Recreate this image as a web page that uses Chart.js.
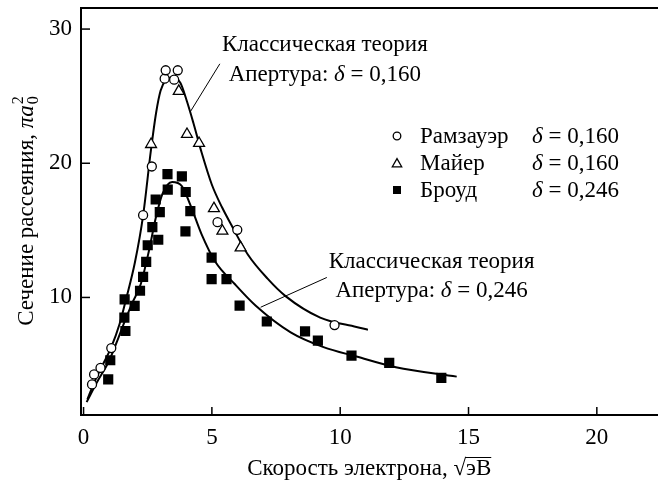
<!DOCTYPE html>
<html><head><meta charset="utf-8">
<script src="https://cdn.jsdelivr.net/npm/chart.js@4/dist/chart.umd.min.js"></script>
<style>html,body{margin:0;padding:0;background:#fff;}</style>
</head><body>
<canvas id="c" width="665" height="486"></canvas>
<script>
// ---- data ----
const xTicks = [0, 5, 10, 15, 20];
const yTicks = [10, 20, 30];
const X_MIN = -0.1, X_MAX = 22.36, Y_MIN = 1.24, Y_MAX = 31.6;

const ramsauer = [[0.33,3.52],[0.41,4.26],[0.66,4.75],[1.08,6.23],[2.32,16.13],[2.66,19.76],[3.16,26.30],[3.20,26.93],[3.53,26.23],[3.67,26.93],[5.22,15.61],[5.99,15.04],[9.78,7.94]];
const mayer = [[2.63,21.41],[3.71,25.37],[4.03,22.16],[4.50,21.49],[5.08,16.63],[5.41,14.95],[6.12,13.71]];
const broude = [[0.96,3.89],[1.04,5.32],[1.63,7.5],[1.59,8.5],[1.60,9.85],[1.99,9.37],[2.2,10.5],[2.32,11.54],[2.44,12.65],[2.50,13.89],[2.68,15.24],[2.91,14.30],[2.97,16.36],[2.81,17.3],[3.27,19.19],[3.28,18.04],[3.83,19.02],[3.98,17.86],[4.16,16.43],[3.97,14.93],[4.99,12.97],[4.99,11.37],[5.57,11.37],[6.08,9.39],[7.14,8.21],[8.63,7.47],[9.13,6.78],[10.44,5.67],[11.91,5.12],[13.94,4.01]];
const theory160 = [[0.15,2.4],[0.4,3.6],[0.7,4.8],[1.08,6.3],[1.4,8.0],[1.66,9.9],[2.0,12.6],[2.32,16.1],[2.62,20.9],[2.83,23.8],[3.0,25.4],[3.2,26.2],[3.45,26.4],[3.77,26.0],[4.03,24.6],[4.28,23.0],[4.6,20.8],[5.0,18.4],[5.4,16.7],[5.76,15.4],[6.4,13.2],[7.17,11.4],[7.87,10.1],[9.22,8.5],[10.63,7.8],[11.08,7.6]];
const theory246 = [[0.12,2.2],[0.5,3.6],[1.0,5.3],[1.3,6.7],[1.6,8.2],[1.9,9.6],[2.23,11.0],[2.55,13.5],[2.81,15.9],[3.07,17.7],[3.45,18.6],[3.83,18.3],[4.16,16.9],[4.6,14.7],[5.12,12.7],[5.89,11.0],[6.7,9.4],[8.07,7.4],[9.35,6.3],[10.63,5.6],[12.17,4.8],[14.54,4.1]];
const leader160 = [[5.31,27.41],[4.16,23.84]];
const leader246 = [[9.48,11.49],[6.90,9.27]];

const legendNames = ['Рамзауэр', 'Майер', 'Броуд'];
const legendDeltas = ['0,160', '0,160', '0,246'];
const theoryTitle = 'Классическая теория';
const apertureLabel = 'Апертура: ';
const label160Pos = [9.40, 28.36, 26.13];   // center x, baseline y line1, line2
const label246Pos = [13.56, 12.21, 10.06];
const xTitle = 'Скорость электрона, ';
const yTitle = 'Сечение рассеяния, ';

const FAM = "'Liberation Serif', 'Times New Roman', serif";
const FS = 23;
const N = FS + "px " + FAM, I = "italic " + FS + "px " + FAM;
const toPts = a => a.map(p => ({x: p[0], y: p[1]}));

function runsWidth(ctx, runs){ let w=0; runs.forEach(r=>{ctx.font=r[1]; w+=ctx.measureText(r[0]).width;}); return w; }
function drawRuns(ctx, runs, x, y){ let cx=x; runs.forEach(r=>{ctx.font=r[1]; ctx.fillText(r[0],cx,y); cx+=ctx.measureText(r[0]).width;}); return cx; }

const annot = {
  id: 'annot',
  afterDraw(chart){
    const ctx = chart.ctx, xs = chart.scales.x, ys = chart.scales.y, a = chart.chartArea;
    ctx.save();
    ctx.strokeStyle = '#000'; ctx.fillStyle = '#000'; ctx.lineWidth = 1.5;
    // inward ticks
    xs.ticks.forEach(t => { const p = xs.getPixelForValue(t.value); ctx.beginPath(); ctx.moveTo(p, a.bottom); ctx.lineTo(p, a.bottom - 8); ctx.stroke(); });
    ys.ticks.forEach(t => { const p = ys.getPixelForValue(t.value); ctx.beginPath(); ctx.moveTo(a.left, p); ctx.lineTo(a.left + 9, p); ctx.stroke(); });
    ctx.textAlign = 'left'; ctx.textBaseline = 'alphabetic';
    // theory labels
    [[label160Pos, '0,160'], [label246Pos, '0,246']].forEach(([pos, d]) => {
      const cx = xs.getPixelForValue(pos[0]);
      const r1 = [[theoryTitle, N]];
      const r2 = [[apertureLabel, N], ['δ', I], [' = ' + d, N]];
      drawRuns(ctx, r1, cx - runsWidth(ctx, r1)/2, ys.getPixelForValue(pos[1]));
      drawRuns(ctx, r2, cx - runsWidth(ctx, r2)/2, ys.getPixelForValue(pos[2]));
    });
    // legend
    const rows = [143, 170, 197];
    rows.forEach((by, i) => {
      const my = by - 7, mx = 397;
      ctx.lineWidth = 1.3; ctx.beginPath();
      if (i === 0) { ctx.arc(mx, my, 3.8, 0, Math.PI*2); ctx.stroke(); }
      else if (i === 1) { ctx.moveTo(mx, my-4.4); ctx.lineTo(mx+4.7, my+3.8); ctx.lineTo(mx-4.7, my+3.8); ctx.closePath(); ctx.stroke(); }
      else { ctx.fillRect(mx-4, my-4, 8, 8); }
      ctx.font = N; ctx.fillText(legendNames[i], 420, by);
      drawRuns(ctx, [['δ', I], [' = ' + legendDeltas[i], N]], 532, by);
    });
    // x title
    const xr = [[xTitle, N], ['√', N]];
    ctx.font = N; const wE = ctx.measureText('эВ').width;
    const wx = runsWidth(ctx, xr) + wE;
    const xcen = (a.left + a.right) / 2;
    let px = drawRuns(ctx, xr, xcen - wx/2, 475);
    ctx.font = N; ctx.fillText('эВ', px, 475);
    ctx.lineWidth = 1; ctx.beginPath(); ctx.moveTo(px - 1, 457.5); ctx.lineTo(px + wE, 457.5); ctx.stroke();
    // y title
    ctx.translate(33, 211); ctx.rotate(-Math.PI/2);
    const yr = [[yTitle, N], ['π', I], ['a', I]];
    ctx.font = "italic 16px " + FAM; const ws = ctx.measureText('2').width;
    const wy = runsWidth(ctx, yr) + ws + 1;
    let qx = drawRuns(ctx, yr, -wy/2, 0);
    ctx.font = "16px " + FAM; ctx.fillText('2', qx + 1, -10); ctx.fillText('0', qx + 1, 5);
    ctx.restore();
  }
};

const scat = (data, style, r, bg) => ({ data: toPts(data), pointStyle: style, pointRadius: r, pointHoverRadius: r, backgroundColor: bg, borderColor: '#000', pointBorderWidth: style === 'rect' ? 0 : 1.3, borderWidth: 1.3, showLine: false, order: 1 });
const line = (data, w) => ({ data: toPts(data), showLine: true, pointRadius: 0, borderColor: '#000', borderWidth: w, cubicInterpolationMode: 'monotone', fill: false, order: 5 });

const tickFont = { family: FAM, size: FS };
const noPadX = s => { s.paddingLeft = 0; s.paddingRight = 0; };
const noPadY = s => { s.paddingTop = 0; s.paddingBottom = 0; };
new Chart(document.getElementById('c'), {
  type: 'scatter',
  data: { datasets: [
    line(theory160, 2), line(theory246, 2), line(leader160, 1), line(leader246, 1),
    scat(ramsauer, 'circle', 4.5, '#fff'), scat(mayer, 'triangle', 6.3, '#fff'), scat(broude, 'rect', 7.2, '#000')
  ]},
  options: {
    responsive: false, animation: false, devicePixelRatio: 1,
    layout: { padding: { top: 5, right: 0, bottom: 0, left: 0 } },
    plugins: { legend: { display: false }, tooltip: { enabled: false } },
    scales: {
      x: { type: 'linear', position: 'bottom', min: X_MIN, max: X_MAX,
        afterBuildTicks: s => { s.ticks = xTicks.map(v => ({ value: v })); },
        afterFit: s => { s.height = 71; noPadX(s); },
        grid: { display: false, drawTicks: false }, border: { display: true, color: '#000', width: 2 },
        ticks: { font: tickFont, color: '#000', padding: 9, maxRotation: 0, autoSkip: false } },
      y: { type: 'linear', position: 'left', min: Y_MIN, max: Y_MAX,
        afterBuildTicks: s => { s.ticks = yTicks.map(v => ({ value: v })); },
        afterFit: s => { s.width = 81; noPadY(s); },
        grid: { display: false, drawTicks: false }, border: { display: true, color: '#000', width: 2 },
        ticks: { font: tickFont, color: '#000', padding: 9, autoSkip: false } },
      xTop: { type: 'linear', position: 'top', axis: 'x', min: X_MIN, max: X_MAX,
        afterFit: s => { s.height = 0; noPadX(s); },
        grid: { display: false, drawTicks: false }, border: { display: true, color: '#000', width: 2 },
        ticks: { display: false } }
    }
  },
  plugins: [annot]
});
</script>
</body></html>
